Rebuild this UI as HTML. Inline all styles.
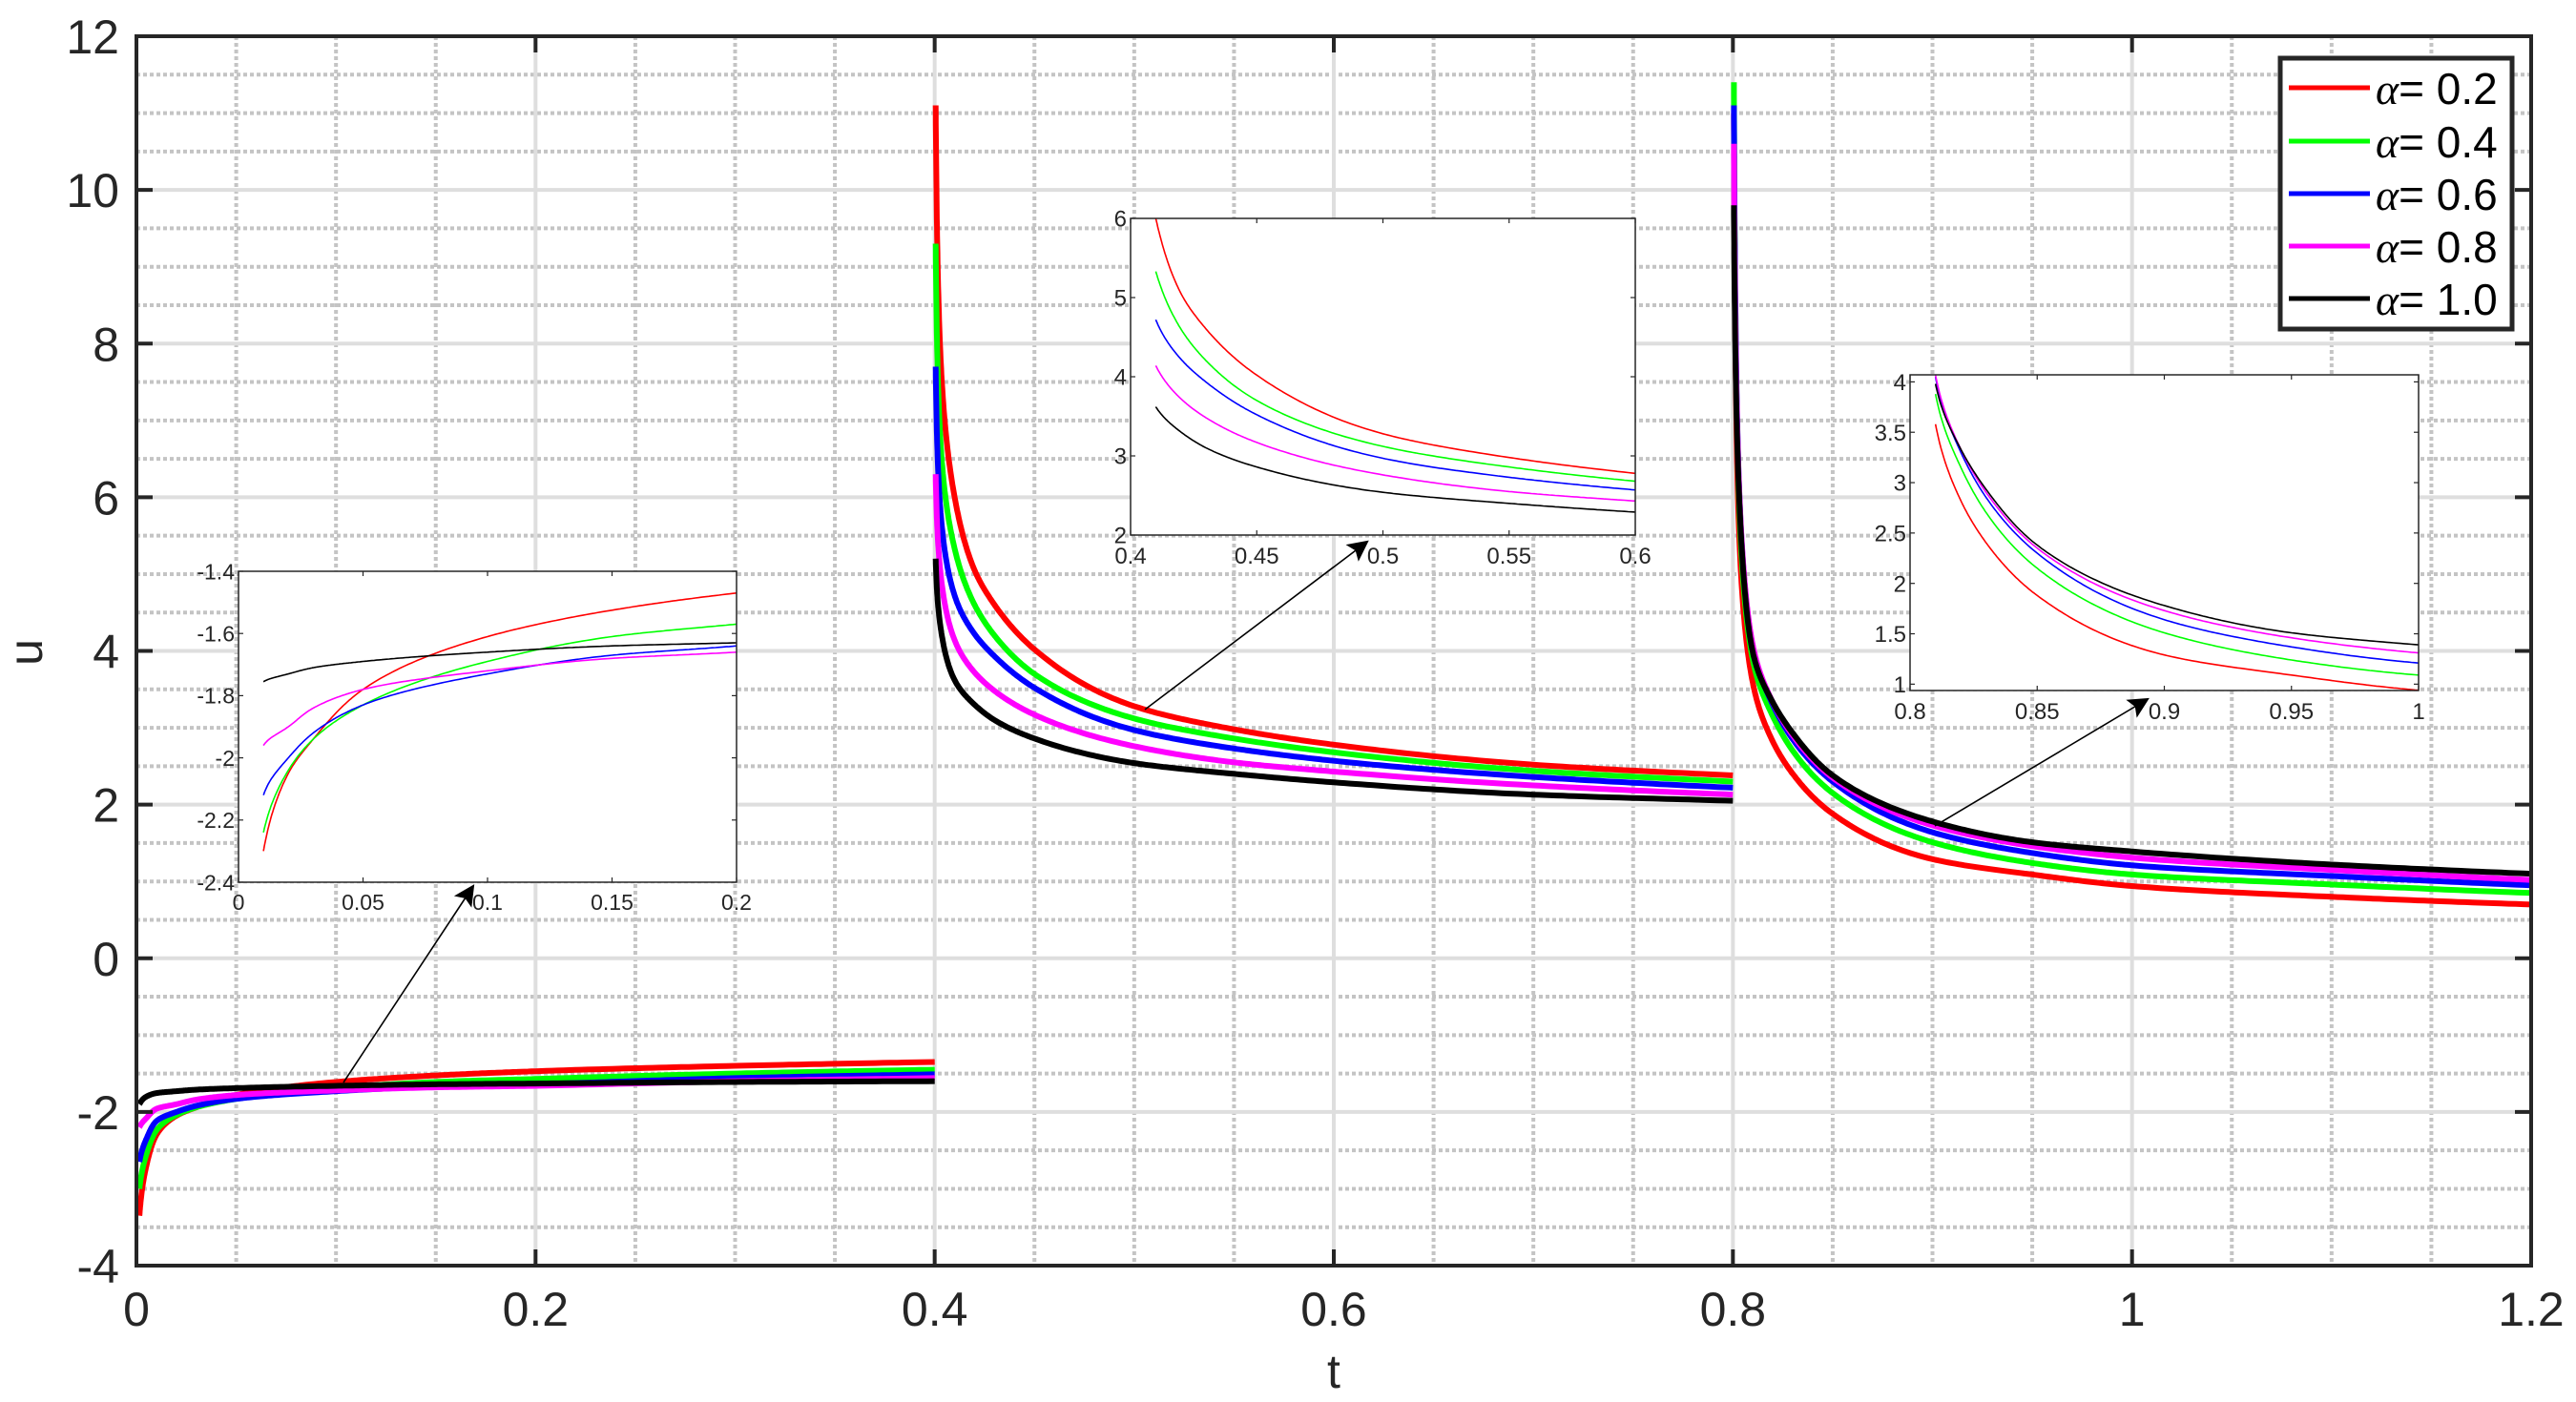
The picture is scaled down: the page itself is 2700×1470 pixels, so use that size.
<!DOCTYPE html>
<html><head><meta charset="utf-8"><style>
html,body{margin:0;padding:0;background:#fff;}
svg{display:block;font-family:"Liberation Sans",sans-serif;}
</style></head><body>
<svg id="chart" width="2700" height="1470" viewBox="0 0 2700 1470" xmlns="http://www.w3.org/2000/svg">
<defs>
<marker id="ahb" viewBox="0 0 10 10" refX="9" refY="5" markerWidth="30" markerHeight="22" markerUnits="userSpaceOnUse" orient="auto"><path d="M0,0 L10,5 L0,10 L2,5 z" fill="#000"/></marker>
</defs>
<g id="root"></g>
</svg>
<script>
// ---- data ----
const seriesNames = ["α= 0.2","α= 0.4","α= 0.6","α= 0.8","α= 1.0"];
const seriesColors = ["#ff0000","#00ff00","#0000ff","#ff00ff","#000000"];
const seg1T = [0.0015,0.005,0.01,0.02,0.03,0.05,0.1,0.15,0.2,0.3,0.4];
const seg1Red = [-3.35,-2.7,-2.30,-2.05,-1.94,-1.78,-1.61,-1.525,-1.47,-1.40,-1.35];
const seg1Green = [-3.0,-2.55,-2.24,-2.04,-1.94,-1.83,-1.69,-1.61,-1.57,-1.50,-1.45];
const seg1Blue = [-2.65,-2.35,-2.12,-2.0,-1.92,-1.83,-1.73,-1.67,-1.64,-1.56,-1.51];
const seg1Magenta = [-2.2,-2.08,-1.96,-1.90,-1.84,-1.78,-1.72,-1.68,-1.66,-1.60,-1.56];
const seg1Black = [-1.9,-1.80,-1.755,-1.73,-1.71,-1.69,-1.66,-1.64,-1.63,-1.61,-1.60];
const seg2T = [0.4005,0.403,0.41,0.42,0.43,0.45,0.5,0.55,0.6,0.7,0.8];
const seg2Red = [11.1,7.8,6.0,5.05,4.6,4.02,3.28,2.98,2.78,2.52,2.38];
const seg2Green = [9.3,6.7,5.33,4.6,4.2,3.70,3.12,2.86,2.68,2.44,2.30];
const seg2Blue = [7.7,5.8,4.72,4.22,3.93,3.52,2.97,2.73,2.57,2.36,2.22];
const seg2Magenta = [6.3,5.0,4.14,3.72,3.48,3.17,2.76,2.55,2.43,2.25,2.13];
const seg2Black = [5.2,4.3,3.62,3.3,3.1,2.86,2.54,2.40,2.29,2.13,2.05];
const seg3T = [0.8005,0.803,0.81,0.82,0.83,0.85,0.9,0.95,1.0,1.1,1.2];
const seg3Red = [11.0,5.6,3.58,2.82,2.4,1.88,1.29,1.09,0.94,0.80,0.70];
const seg3Green = [11.4,6.0,3.88,3.15,2.70,2.15,1.51,1.24,1.09,0.96,0.85];
const seg3Blue = [11.1,6.2,4.05,3.3,2.85,2.3,1.64,1.37,1.21,1.07,0.95];
const seg3Magenta = [10.6,6.2,4.07,3.33,2.9,2.35,1.73,1.46,1.31,1.15,1.02];
const seg3Black = [9.8,6.1,3.98,3.33,2.93,2.38,1.78,1.51,1.39,1.22,1.10];
const segStarts = [0,0.4,0.8];
const xTicks = [0,0.2,0.4,0.6,0.8,1,1.2];
const xTickLabels = ["0","0.2","0.4","0.6","0.8","1","1.2"];
const yTicks = [-4,-2,0,2,4,6,8,10,12];
const yTickLabels = ["-4","-2","0","2","4","6","8","10","12"];

const segments = [
  {t:seg1T, t0:segStarts[0], ys:[seg1Red,seg1Green,seg1Blue,seg1Magenta,seg1Black]},
  {t:seg2T, t0:segStarts[1], ys:[seg2Red,seg2Green,seg2Blue,seg2Magenta,seg2Black]},
  {t:seg3T, t0:segStarts[2], ys:[seg3Red,seg3Green,seg3Blue,seg3Magenta,seg3Black]}
];

const NS="http://www.w3.org/2000/svg";
const root=document.getElementById('root');
function mk(tag,attrs,parent){const e=document.createElementNS(NS,tag);for(const k in attrs)e.setAttribute(k,attrs[k]);(parent||root).appendChild(e);return e;}

// monotone cubic interpolation in log(t - t0) space
function sampleSeries(tsRaw,ys,n,t0){
  const ts=tsRaw.map(t=>Math.log(t-t0));
  const m=ts.length,d=[],s=[];
  for(let i=0;i<m-1;i++)d.push((ys[i+1]-ys[i])/(ts[i+1]-ts[i]));
  s[0]=d[0];s[m-1]=d[m-2];
  for(let i=1;i<m-1;i++){ if(d[i-1]*d[i]<=0)s[i]=0; else {const h0=ts[i]-ts[i-1],h1=ts[i+1]-ts[i];const w1=2*h1+h0,w2=h1+2*h0;s[i]=(w1+w2)/(w1/d[i-1]+w2/d[i]);} }
  const out=[];
  for(let i=0;i<m-1;i++){const h=ts[i+1]-ts[i];
    for(let k=0;k<n;k++){const u=k/n;const h00=2*u*u*u-3*u*u+1,h10=u*u*u-2*u*u+u,h01=-2*u*u*u+3*u*u,h11=u*u*u-u*u;
      out.push([t0+Math.exp(ts[i]+u*h),h00*ys[i]+h10*h*s[i]+h01*ys[i+1]+h11*h*s[i+1]]);}}
  out.push([tsRaw[m-1],ys[m-1]]);
  return out;
}

// ---- main axes ----
const L=143,R=2653,T=38,B=1327;
const X=t=>L+(t-0)/1.2*(R-L);
const Y=u=>T+(12-u)/16*(B-T);

const grid=mk('g',{});


for(let v=0.05;v<1.2;v+=0.05){ if(Math.abs(v/0.2-Math.round(v/0.2))<1e-6)continue;
  mk('line',{x1:X(v),x2:X(v),y1:T,y2:B,stroke:'#c4c4c4','stroke-width':4,'stroke-dasharray':'4 3'},grid);}
for(let v=-3.5;v<12;v+=0.5){ if(Math.abs(v/2-Math.round(v/2))<1e-6)continue;
  mk('line',{x1:L,x2:R,y1:Y(v),y2:Y(v),stroke:'#c4c4c4','stroke-width':4,'stroke-dasharray':'4 3'},grid);}
xTicks.forEach(v=>mk('line',{x1:X(v),x2:X(v),y1:T,y2:B,stroke:'#dedede','stroke-width':4},grid));
yTicks.forEach(v=>mk('line',{x1:L,x2:R,y1:Y(v),y2:Y(v),stroke:'#dedede','stroke-width':4},grid));

// main series
const mainG=mk('g',{});


seriesNames.forEach((nm,si)=>{
  segments.forEach((seg,gi)=>{
    const pts=sampleSeries(seg.t,seg.ys[si],30,seg.t0);
    const p=mk('polyline',{points:pts.map(q=>X(q[0]).toFixed(1)+','+Y(q[1]).toFixed(1)).join(' '),fill:'none',stroke:seriesColors[si],'stroke-width':6,'stroke-linejoin':'round'},mainG);
    
    
  });
});

// axes box and ticks
const ax=mk('g',{});


mk('rect',{x:L,y:T,width:R-L,height:B-T,fill:'none',stroke:'#262626','stroke-width':4},ax);
xTicks.forEach((v,i)=>{
  mk('line',{x1:X(v),x2:X(v),y1:B,y2:B-17,stroke:'#262626','stroke-width':4},ax);
  mk('line',{x1:X(v),x2:X(v),y1:T,y2:T+17,stroke:'#262626','stroke-width':4},ax);
  const t=mk('text',{x:X(v),y:1390,'text-anchor':'middle','font-size':50,fill:'#262626'},ax);t.textContent=xTickLabels[i];
  
  
});
yTicks.forEach((v,i)=>{
  mk('line',{x1:L,x2:L+17,y1:Y(v),y2:Y(v),stroke:'#262626','stroke-width':4},ax);
  mk('line',{x1:R,x2:R-17,y1:Y(v),y2:Y(v),stroke:'#262626','stroke-width':4},ax);
  const t=mk('text',{x:L-18,y:Y(v)+18,'text-anchor':'end','font-size':50,fill:'#262626'},ax);t.textContent=yTickLabels[i];
  
  
});
const xt=mk('text',{x:1398,y:1455,'text-anchor':'middle','font-size':50,fill:'#262626'});xt.textContent='t';


const yt=mk('text',{x:0,y:0,'text-anchor':'middle','font-size':50,fill:'#262626',transform:'translate(44,684) rotate(-90)'});yt.textContent='u';



// ---- insets ----
let clipId=0;
function inset(name,box,xlim,ylim,xt,xtl,yt,ytl,segIdx,tStart,fs){
  const g=mk('g',{});
  
  
  const ix=t=>box.x0+(t-xlim[0])/(xlim[1]-xlim[0])*(box.x1-box.x0);
  const iy=u=>box.y1-(u-ylim[0])/(ylim[1]-ylim[0])*(box.y1-box.y0);
  mk('rect',{x:box.x0,y:box.y0,width:box.x1-box.x0,height:box.y1-box.y0,fill:'#fff',stroke:'none'},g);
  const cid='c'+(clipId++);
  const cp=mk('clipPath',{id:cid},g);mk('rect',{x:box.x0,y:box.y0,width:box.x1-box.x0,height:box.y1-box.y0},cp);
  const lg=mk('g',{'clip-path':'url(#'+cid+')'},g);
  const seg=segments[segIdx];
  seriesNames.forEach((nm,si)=>{
    const pts=sampleSeries(seg.t,seg.ys[si],40,seg.t0).filter(q=>q[0]>=tStart-1e-9);
    const p=mk('polyline',{points:pts.map(q=>ix(q[0]).toFixed(1)+','+iy(q[1]).toFixed(1)).join(' '),fill:'none',stroke:seriesColors[si],'stroke-width':1.6},lg);
    
    
  });
  mk('rect',{x:box.x0,y:box.y0,width:box.x1-box.x0,height:box.y1-box.y0,fill:'none',stroke:'#262626','stroke-width':1.5},g);
  xt.forEach((v,i)=>{
    mk('line',{x1:ix(v),x2:ix(v),y1:box.y1,y2:box.y1-5,stroke:'#262626','stroke-width':1.2},g);
    mk('line',{x1:ix(v),x2:ix(v),y1:box.y0,y2:box.y0+5,stroke:'#262626','stroke-width':1.2},g);
    const t=mk('text',{x:ix(v),y:box.y1+fs+6,'text-anchor':'middle','font-size':fs,fill:'#262626'},g);t.textContent=xtl[i];
  });
  yt.forEach((v,i)=>{
    mk('line',{x1:box.x0,x2:box.x0+5,y1:iy(v),y2:iy(v),stroke:'#262626','stroke-width':1.2},g);
    mk('line',{x1:box.x1,x2:box.x1-5,y1:iy(v),y2:iy(v),stroke:'#262626','stroke-width':1.2},g);
    const t=mk('text',{x:box.x0-4,y:iy(v)+fs*0.36,'text-anchor':'end','font-size':fs,fill:'#262626'},g);t.textContent=ytl[i];
  });
}
inset('inset-early',{x0:250,x1:772,y0:599,y1:925},[0,0.2],[-2.4,-1.4],
  [0,0.05,0.1,0.15,0.2],["0","0.05","0.1","0.15","0.2"],
  [-2.4,-2.2,-2,-1.8,-1.6,-1.4],["-2.4","-2.2","-2","-1.8","-1.6","-1.4"],0,0.01,23);
inset('inset-middle',{x0:1185,x1:1714,y0:229,y1:561},[0.4,0.6],[2,6],
  [0.4,0.45,0.5,0.55,0.6],["0.4","0.45","0.5","0.55","0.6"],
  [2,3,4,5,6],["2","3","4","5","6"],1,0.41,24);
inset('inset-late',{x0:2002,x1:2535,y0:393,y1:724},[0.8,1.0],[0.937,4.07],
  [0.8,0.85,0.9,0.95,1],["0.8","0.85","0.9","0.95","1"],
  [1,1.5,2,2.5,3,3.5,4],["1","1.5","2","2.5","3","3.5","4"],2,0.81,24);

// arrows
[[360,1135,496,929],[1200,744,1433,568],[2028,866,2251,733]].forEach((a,i)=>{
  const l=mk('line',{x1:a[0],y1:a[1],x2:a[2],y2:a[3],stroke:'#000','stroke-width':1.6,'marker-end':'url(#ahb)'});
  
  
});

// legend
const lg=mk('g',{});


mk('rect',{x:2390,y:61,width:243,height:284,fill:'#fff',stroke:'#262626','stroke-width':5},lg);
const ly=[92,148,203,258,313];
seriesNames.forEach((nm,i)=>{
  const e=mk('g',{},lg);
  
  
  mk('line',{x1:2399,x2:2484,y1:ly[i],y2:ly[i],stroke:seriesColors[i],'stroke-width':5},e);
  const t=mk('text',{x:2490,y:ly[i]+17,'font-size':46,fill:'#000'},e);
  const a=mk('tspan',{'font-family':'"Liberation Serif",serif','font-style':'italic'},t);a.textContent='α';
  const b=mk('tspan',{},t);b.textContent=nm.slice(1);
});
</script>
</body></html>
